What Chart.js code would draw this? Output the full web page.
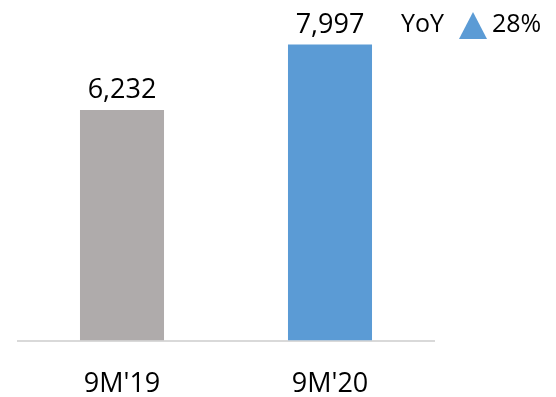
<!DOCTYPE html>
<html>
<head>
<meta charset="utf-8">
<script src="https://cdn.jsdelivr.net/npm/chart.js@4"></script>
<style>
  html, body { margin: 0; padding: 0; background: #fff; }
  #wrap { position: relative; width: 556px; height: 397px; }
</style>
</head>
<body>
<div id="wrap"><canvas id="revChart" width="556" height="397"></canvas></div>
<script>
var periods = ["9M'19", "9M'20"];
var revenue = [6232, 7997];
var barColors = ['#AFABAB', '#5B9BD5'];
var yoyLabel = 'YoY';
var yoyValue = '28%';

var fontFamily = "'Open Sans', sans-serif";

// value above each bar, taken from the bar element itself
var valueLabels = {
	id: 'valueLabels',
	afterDatasetsDraw: function(chart) {
		var ctx = chart.ctx;
		var meta = chart.getDatasetMeta(0);
		ctx.save();
		ctx.font = '27px ' + fontFamily;
		ctx.fillStyle = '#000';
		ctx.textAlign = 'center';
		ctx.textBaseline = 'bottom';
		meta.data.forEach(function(bar, i) {
			ctx.fillText(revenue[i].toLocaleString('en-US'), bar.x, bar.y - 6);
		});
		ctx.restore();
	}
};

// "YoY ▲ 28%" in the top right corner
var yoyBadge = {
	id: 'yoyBadge',
	afterDraw: function(chart) {
		var ctx = chart.ctx;
		ctx.save();
		ctx.font = '25px ' + fontFamily;
		ctx.fillStyle = '#000';
		ctx.textBaseline = 'middle';
		ctx.textAlign = 'left';
		ctx.fillText(yoyLabel, 401, 25);
		ctx.fillText(yoyValue, 492, 25);
		ctx.fillStyle = '#5B9BD5';
		ctx.beginPath();
		ctx.moveTo(473, 12);
		ctx.lineTo(487, 39);
		ctx.lineTo(459, 39);
		ctx.closePath();
		ctx.fill();
		ctx.restore();
	}
};

var ctx = document.getElementById('revChart');
var revChart = new Chart(ctx, {
	type: 'bar',
	data: {
		labels: periods,
		datasets: [{
			data: revenue,
			backgroundColor: barColors,
			barPercentage: 0.404,
			categoryPercentage: 1
		}]
	},
	options: {
		responsive: false,
		animation: false,
		layout: { padding: { left: 18, right: 122, top: 0, bottom: -24 } },
		plugins: { legend: { display: false }, tooltip: { enabled: false } },
		scales: {
			x: {
				grid: { display: false },
				border: { display: true, color: '#D9D9D9', width: 2 },
				ticks: { color: '#000', font: { family: fontFamily, size: 27 }, padding: 20 }
			},
			y: { display: false, min: 0, max: 9200 }
		}
	},
	plugins: [valueLabels, yoyBadge]
});
</script>
</body>
</html>
